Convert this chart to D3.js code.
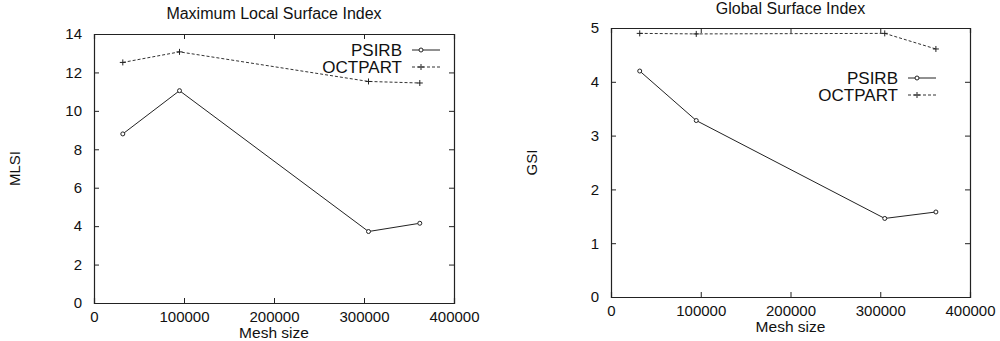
<!DOCTYPE html>
<html>
<head>
<meta charset="utf-8">
<script src="https://cdn.jsdelivr.net/npm/d3@7"></script>
<style>
  body { margin: 0; background: #fff; }
  text { font-family: "Liberation Sans", Arial, sans-serif; fill: #111; }
</style>
</head>
<body>
<div id="chart"></div>
<script>
// mesh sizes shared by both plots
const meshSize = [32000, 95000, 305000, 362000];

// Maximum Local Surface Index
const mlsiPsirb = [8.8, 11.05, 3.72, 4.15];
const mlsiOctpart = [12.52, 13.07, 11.53, 11.45];

// Global Surface Index
const gsiPsirb = [4.2, 3.28, 1.46, 1.58];
const gsiOctpart = [4.9, 4.89, 4.9, 4.61];

const xTicks = [0, 100000, 200000, 300000, 400000];
const mlsiTicks = [0, 2, 4, 6, 8, 10, 12, 14];
const gsiTicks = [0, 1, 2, 3, 4, 5];

let svg = d3.select("#chart")
  .append("svg")
    .attr("width", 1000)
    .attr("height", 341);

function panel(opts) {
  let g = svg.append("g");
  let x = d3.scaleLinear().domain([0, 400000]).range([opts.left, opts.right]);
  let y = d3.scaleLinear().domain([0, opts.ymax]).range([opts.bottom, opts.top]);

  // frame with inward ticks on all sides
  g.append("g")
    .attr("transform", "translate(0," + opts.bottom + ")")
    .call(d3.axisBottom(x).tickValues(xTicks).tickSize(-5).tickPadding(8).tickFormat(d3.format("d")))
    .call(a => a.selectAll("text").attr("font-size", 15));
  g.append("g")
    .attr("transform", "translate(0," + opts.top + ")")
    .call(d3.axisTop(x).tickValues(xTicks).tickSize(-5).tickFormat(""));
  g.append("g")
    .attr("transform", "translate(" + opts.left + ",0)")
    .call(d3.axisLeft(y).tickValues(opts.yTicks).tickSize(-5).tickPadding(12).tickFormat(d3.format("d")))
    .call(a => a.selectAll("text").attr("font-size", 15));
  g.append("g")
    .attr("transform", "translate(" + opts.right + ",0)")
    .call(d3.axisRight(y).tickValues(opts.yTicks).tickSize(-5).tickFormat(""));
  g.selectAll(".domain").attr("stroke", "#222").attr("stroke-width", 1.2);
  g.selectAll(".tick line").attr("stroke", "#222");

  // titles
  let cx = (opts.left + opts.right) / 2;
  g.append("text").attr("x", cx).attr("y", opts.titleY)
    .attr("text-anchor", "middle").attr("font-size", 16).text(opts.title);
  g.append("text").attr("x", cx).attr("y", opts.bottom + 35)
    .attr("text-anchor", "middle").attr("font-size", 15.5).text("Mesh size");
  g.append("text")
    .attr("transform", "translate(" + opts.ylabX + "," + ((opts.top + opts.bottom) / 2) + ") rotate(-90)")
    .attr("text-anchor", "middle").attr("font-size", 15).text(opts.ylab);

  let line = d3.line().x((d, i) => x(meshSize[i])).y(d => y(d));

  // PSIRB solid with small circles
  g.append("path").datum(opts.psirb).attr("d", line)
    .attr("fill", "none").attr("stroke", "#222").attr("stroke-width", 1);
  g.selectAll(".dot").data(opts.psirb).join("circle")
    .attr("cx", (d, i) => x(meshSize[i])).attr("cy", d => y(d)).attr("r", 2)
    .attr("fill", "#fff").attr("stroke", "#222");

  // OCTPART dashed with plus marks
  g.append("path").datum(opts.octpart).attr("d", line)
    .attr("fill", "none").attr("stroke", "#333").attr("stroke-width", 1)
    .attr("stroke-dasharray", "3,2");
  opts.octpart.forEach((d, i) => plus(g, x(meshSize[i]), y(d)));

  // legend
  let lx = opts.legX, ly = opts.legY;
  g.append("text").attr("x", lx).attr("y", ly).attr("text-anchor", "end")
    .attr("font-size", 17).text("PSIRB");
  g.append("line").attr("x1", lx + 10).attr("x2", lx + 38)
    .attr("y1", ly - 6).attr("y2", ly - 6).attr("stroke", "#222");
  g.append("circle").attr("cx", lx + 19).attr("cy", ly - 6).attr("r", 2)
    .attr("fill", "#fff").attr("stroke", "#222");
  g.append("text").attr("x", lx).attr("y", ly + 17).attr("text-anchor", "end")
    .attr("font-size", 17).text("OCTPART");
  g.append("line").attr("x1", lx + 10).attr("x2", lx + 38)
    .attr("y1", ly + 11).attr("y2", ly + 11).attr("stroke", "#333")
    .attr("stroke-dasharray", "3,2");
  plus(g, lx + 19, ly + 11);
}

function plus(g, cx, cy) {
  g.append("path")
    .attr("d", "M" + (cx - 3) + "," + cy + "h6M" + cx + "," + (cy - 3) + "v6")
    .attr("stroke", "#222").attr("stroke-width", 1);
}

panel({
  left: 94, right: 454, top: 34, bottom: 303, ymax: 14, yTicks: mlsiTicks,
  title: "Maximum Local Surface Index", titleY: 19, ylab: "MLSI", ylabX: 20,
  psirb: mlsiPsirb, octpart: mlsiOctpart, legX: 402, legY: 56
});

panel({
  left: 611, right: 970, top: 28, bottom: 297, ymax: 5, yTicks: gsiTicks,
  title: "Global Surface Index", titleY: 14, ylab: "GSI", ylabX: 537,
  psirb: gsiPsirb, octpart: gsiOctpart, legX: 898, legY: 84
});
</script>
</body>
</html>
